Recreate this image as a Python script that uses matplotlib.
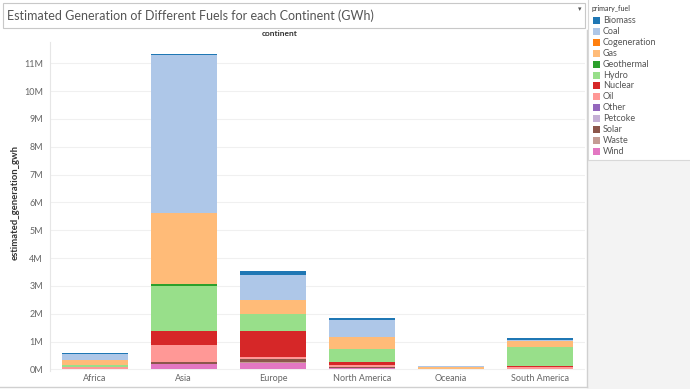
import matplotlib.pyplot as plt
import matplotlib.patches as mpatches
from matplotlib.lines import Line2D
from matplotlib.ticker import FuncFormatter
import numpy as np

# Data (GWh)
continents = ["Africa", "Asia", "Europe", "North America", "Oceania", "South America"]
fuels = ["Biomass", "Coal", "Cogeneration", "Gas", "Geothermal", "Hydro", "Nuclear",
         "Oil", "Other", "Petcoke", "Solar", "Waste", "Wind"]

biomass = [30000, 60000, 140000, 70000, 3000, 70000]
coal = [210000, 5650000, 890000, 590000, 60000, 40000]
cogeneration = [2000, 10000, 10000, 5000, 0, 2000]
gas = [190000, 2570000, 490000, 420000, 50000, 230000]
geothermal = [5000, 40000, 30000, 10000, 2000, 3000]
hydro = [70000, 1620000, 610000, 460000, 10000, 660000]
nuclear = [10000, 520000, 930000, 110000, 0, 50000]
oil = [60000, 600000, 70000, 80000, 5000, 70000]
other = [1000, 5000, 5000, 3000, 0, 1000]
petcoke = [1000, 10000, 5000, 5000, 0, 2000]
solar = [5000, 50000, 80000, 20000, 3000, 5000]
waste = [2000, 20000, 30000, 10000, 1000, 3000]
wind = [10000, 190000, 250000, 50000, 5000, 10000]

series = [biomass, coal, cogeneration, gas, geothermal, hydro, nuclear,
          oil, other, petcoke, solar, waste, wind]
colors = ["#1f77b4", "#aec7e8", "#ff7f0e", "#ffbb78", "#2ca02c", "#98df8a", "#d62728",
          "#ff9896", "#9467bd", "#c5b0d5", "#8c564b", "#c49c94", "#e377c2"]

plt.rcParams['font.family'] = 'Lato'

W, H = 690, 389
fig = plt.figure(figsize=(W / 100, H / 100), dpi=100)

# plot area in pixels
px_left, px_right, px_top, px_bottom = 50, 585, 42, 371
ax = fig.add_axes([px_left / W, (H - px_bottom) / H,
                   (px_right - px_left) / W, (px_bottom - px_top) / H])

x = np.arange(len(continents))
bottom = np.zeros(len(continents))
# stack from the bottom: Wind first, Biomass on top
for name, vals, col in reversed(list(zip(fuels, series, colors))):
    vals = np.array(vals, dtype=float)
    ax.bar(x, vals, 0.74, bottom=bottom, color=col, linewidth=0, zorder=3)
    bottom += vals

ax.set_xlim(-0.5, len(continents) - 0.5)
ax.set_ylim(-54000, 11760000)
ax.set_yticks(np.arange(0, 11000001, 1000000))
ax.yaxis.set_major_formatter(FuncFormatter(lambda v, p: f"{int(round(v / 1e6))}M"))
ax.set_xticks(x)
ax.set_xticklabels(continents)
ax.tick_params(axis='both', length=0, labelsize=6.5, labelcolor='#666666')
ax.tick_params(axis='x', pad=2.5)
ax.tick_params(axis='y', pad=5)
ax.grid(axis='y', color='#f0f0f0', linewidth=0.8, zorder=0)
for s in ['top', 'right', 'bottom']:
    ax.spines[s].set_visible(False)
ax.spines['left'].set_color('#e6e6e6')
ax.spines['left'].set_linewidth(0.8)
ax.set_facecolor('white')

# y label
fig.text(15 / W, 1 - 203 / H, "estimated_generation_gwh", rotation=90, ha='center',
         va='center', fontsize=6.8, fontweight='bold', color='#333333')
# column header
fig.text(280 / W, 1 - 34 / H, "continent", ha='center', va='center',
         fontsize=6, fontweight='bold', color='#333333')

# title box
fig.add_artist(mpatches.Rectangle((3 / W, 1 - 28 / H), 582 / W, 25 / H,
                                  transform=fig.transFigure, fill=False,
                                  edgecolor='#c8c8c8', linewidth=0.8))
fig.text(7 / W, 1 - 15.5 / H, "Estimated Generation of Different Fuels for each Continent (GWh)",
         ha='left', va='center', fontsize=9, color='#555555')
fig.text(580 / W, 1 - 9 / H, "\u25be", ha='center', va='center', fontsize=5,
         color='#555555', family='DejaVu Sans')

# panel borders
fig.add_artist(Line2D([0, 587 / W], [1 - 387 / H, 1 - 387 / H], transform=fig.transFigure,
                      color='#d0d0d0', linewidth=1))
fig.add_artist(Line2D([587 / W, 587 / W], [1 - 387 / H, 1 - 30 / H], transform=fig.transFigure,
                      color='#d0d0d0', linewidth=1))

# legend panel
fig.add_artist(mpatches.Rectangle((588 / W, 0), 102 / W, 1 - 160 / H,
                                  transform=fig.transFigure, facecolor='#f3f3f3',
                                  edgecolor='none'))
fig.add_artist(Line2D([588 / W, 690 / W], [1 - 160 / H, 1 - 160 / H], transform=fig.transFigure,
                      color='#d8d8d8', linewidth=0.8))
fig.add_artist(Line2D([588 / W, 588 / W], [1 - 160 / H, 1], transform=fig.transFigure,
                      color='#d8d8d8', linewidth=0.8))
fig.text(592 / W, 1 - 8 / H, "primary_fuel", ha='left', va='center', fontsize=5,
         color='#333333')
for i, (name, col) in enumerate(zip(fuels, colors)):
    yc = 20.5 + i * 10.9
    fig.add_artist(mpatches.Rectangle((593 / W, 1 - (yc + 3.5) / H), 7 / W, 7 / H,
                                      transform=fig.transFigure, facecolor=col,
                                      edgecolor='none'))
    fig.text(603 / W, 1 - yc / H, name, ha='left', va='center', fontsize=6.5,
             color='#555555')

fig.savefig("out.png", dpi=100)
